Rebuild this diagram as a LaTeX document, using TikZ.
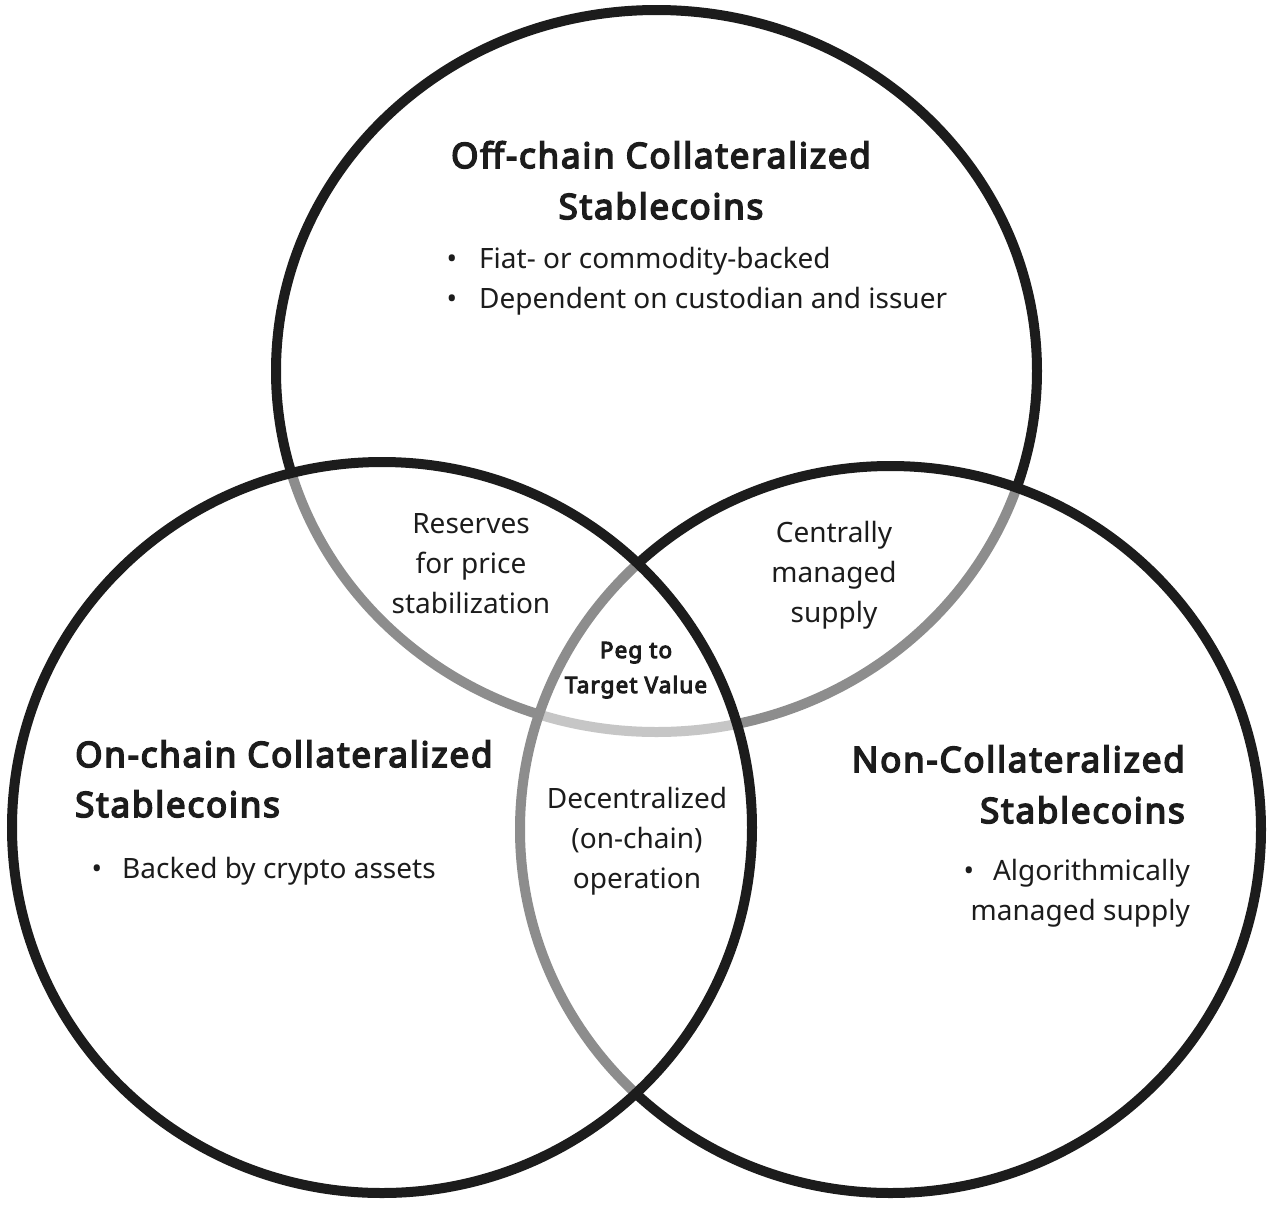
\documentclass[tikz,border=0pt]{standalone}
\usepackage{fontspec}
\setmainfont{Noto Sans}
\newfontfamily\heavy{Noto Sans}[FakeBold=4.5, LetterSpace=5.0]
\definecolor{ink}{HTML}{1C1C1C}
\tikzset{
  ring/.style={line width=10pt, draw=ink},
  veil/.style={ring, fill=white, fill opacity=0.5},
  head/.style={font=\fontsize{35}{42}\heavy\selectfont, text=ink, inner sep=0pt},
  body/.style={font=\fontsize{28}{34}\selectfont, text=ink, inner sep=0pt},
  peg/.style={font=\fontsize{22.5}{26}\heavy\selectfont, text=ink, inner sep=0pt},
}
\begin{document}
\begin{tikzpicture}[x=1pt,y=-1pt]
\useasboundingbox (0,0) rectangle (1270,1211);
% circles: top (bottom layer), right, left (top layer)
\draw[ring] (656.5,371) ellipse [x radius=380.5pt, y radius=361pt];
\draw[veil] (890.5,829.5) ellipse [x radius=370.5pt, y radius=363.5pt];
\draw[veil] (382,827.5) ellipse [x radius=370pt, y radius=365.5pt];
% top circle texts
\node[head, anchor=base] (offA) at (661,168) {Off-chain Collateralized};
\node[head, anchor=base] (offB) at (661,219) {Stablecoins};
\node[body, anchor=base] (offbul1) at (452,268) {•};
\node[body, anchor=base west] (off1) at (479,268) {Fiat- or commodity-backed};
\node[body, anchor=base] (offbul2) at (452,308) {•};
\node[body, anchor=base west] (off2) at (479,308) {Dependent on custodian and issuer};
% top-left overlap
\node[body, anchor=base] (resA) at (471,533) {Reserves};
\node[body, anchor=base] (resB) at (471,573) {for price};
\node[body, anchor=base] (resC) at (471,613) {stabilization};
% top-right overlap
\node[body, anchor=base] (cenA) at (834,542) {Centrally};
\node[body, anchor=base] (cenB) at (834,582) {managed};
\node[body, anchor=base] (cenC) at (834,622) {supply};
% centre
\node[peg, anchor=base] (pegA) at (636,658) {Peg to};
\node[peg, anchor=base] (pegB) at (636,693) {Target Value};
% left-right overlap
\node[body, anchor=base] (decA) at (637,808) {Decentralized};
\node[body, anchor=base] (decB) at (637,848) {(on-chain)};
\node[body, anchor=base] (decC) at (637,888) {operation};
% left circle texts
\node[head, anchor=base west] (onA) at (75,767) {On-chain Collateralized};
\node[head, anchor=base west] (onB) at (75,817) {Stablecoins};
\node[body, anchor=base] (onbul) at (97,878) {•};
\node[body, anchor=base west] (on1) at (122,878) {Backed by crypto assets};
% right circle texts
\node[head, anchor=base east] (nonA) at (1185,772) {Non-Collateralized};
\node[head, anchor=base east] (nonB) at (1185,823) {Stablecoins};
\node[body, anchor=base east] (non1) at (1190,880) {Algorithmically};
\node[body, anchor=base] (nonbul) at (969,880) {•};
\node[body, anchor=base east] (non2) at (1190,920) {managed supply};
\end{tikzpicture}
\end{document}
